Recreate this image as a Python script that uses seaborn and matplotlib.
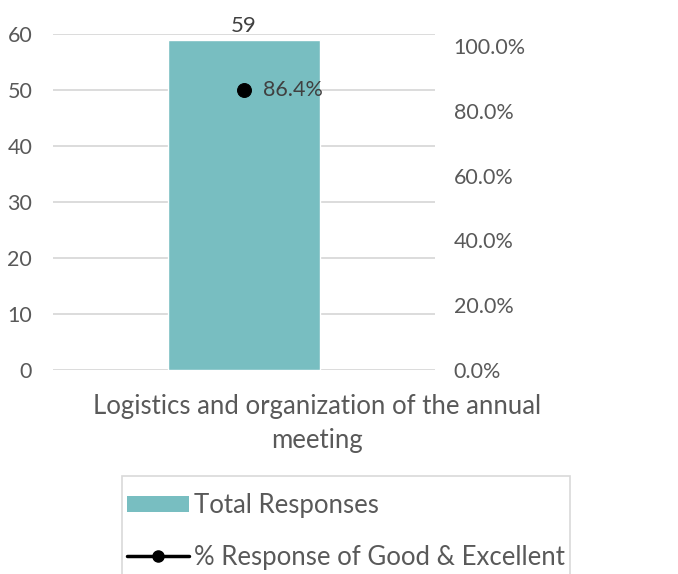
import matplotlib
matplotlib.use("Agg")
import matplotlib.pyplot as plt
import matplotlib.transforms as mtransforms
from matplotlib.ticker import FuncFormatter
from matplotlib.lines import Line2D
from matplotlib.patches import Patch, Rectangle
import seaborn as sns
import pandas as pd

categories = ["Logistics and organization of the annual\nmeeting"]
total_responses = [59]
pct_good_excellent = [0.864]
left_ticks = [0, 10, 20, 30, 40, 50, 60]
right_ticks = [0.0, 0.2, 0.4, 0.6, 0.8, 1.0]

BAR_COLOR = "#78BEC1"
TEXT_COLOR = "#595959"
GRID_COLOR = "#D9D9D9"

sns.set_theme(style="white")
plt.rcParams["font.family"] = ["Lato", "DejaVu Sans"]
plt.rcParams["text.color"] = TEXT_COLOR
FS_NUM = 15.5
FS_TXT = 18.5

df = pd.DataFrame({"category": categories, "total": total_responses, "pct": pct_good_excellent})

fig = plt.figure(figsize=(6.78, 5.74), dpi=100)
ax = fig.add_axes([53 / 678, 1 - 370 / 574, (435 - 53) / 678, (370 - 34) / 574])

sns.barplot(data=df, x="category", y="total", color=BAR_COLOR, width=0.4,
            saturation=1, ax=ax, zorder=2)
ax.set_xlim(-0.5, 0.5)
ax.set_ylim(0, 60)
ax.set_yticks(left_ticks)
ax.yaxis.grid(True, color=GRID_COLOR, linewidth=1.3, zorder=0)
ax.set_axisbelow(True)
for s in ax.spines.values():
    s.set_visible(False)
ax.tick_params(axis="y", length=0, pad=15, labelsize=FS_NUM, labelcolor=TEXT_COLOR)
ax.tick_params(axis="x", length=0, pad=17, labelsize=FS_TXT, labelcolor=TEXT_COLOR)
ax.set_xlabel("")
ax.set_ylabel("")
offset = mtransforms.ScaledTranslation(73 / 100, 0, fig.dpi_scale_trans)
for lbl in ax.get_xticklabels():
    lbl.set_transform(lbl.get_transform() + offset)
    lbl.set_linespacing(1.45)

for i, v in enumerate(total_responses):
    ax.text(i, v + 0.7, f"{v}", ha="center", va="bottom", fontsize=FS_NUM + 0.5, color="#404040")

ax2 = ax.twinx()
sns.lineplot(x=[0], y=pct_good_excellent, ax=ax2, color="black", marker="o",
             markersize=10, markeredgecolor="black", linewidth=2.5, legend=False)
ax2.set_ylim(0, 1.037)
ax2.set_yticks(right_ticks)
ax2.yaxis.set_major_formatter(FuncFormatter(lambda v, p: f"{v*100:.1f}%"))
ax2.tick_params(axis="y", length=0, pad=13.5, labelsize=FS_NUM, labelcolor=TEXT_COLOR)
ax2.set_ylabel("")
for s in ax2.spines.values():
    s.set_visible(False)
for i, v in enumerate(pct_good_excellent):
    ax2.annotate(f"{v*100:.1f}%", (i, v), xytext=(14, 0), textcoords="offset points",
                 ha="left", va="center", fontsize=FS_NUM, color="#404040")

handles = [Patch(facecolor=BAR_COLOR, edgecolor="none"),
           Line2D([0], [0], color="black", marker="o", markersize=8, linewidth=2.5)]
leg = fig.legend(handles, ["Total Responses", "% Response of Good & Excellent"],
                 loc="upper left", bbox_to_anchor=(127 / 678, 1 - 493 / 574),
                 frameon=False, fontsize=FS_TXT, labelcolor=TEXT_COLOR,
                 handlelength=2.4, handleheight=0.6, handletextpad=0.2, labelspacing=1.05,
                 borderpad=0, borderaxespad=0)
frame = Rectangle((122 / 678, -0.02), (570 - 122) / 678, (1 - 476 / 574) + 0.02,
                  transform=fig.transFigure, fill=False, edgecolor=GRID_COLOR, linewidth=1.2)
fig.patches.append(frame)

fig.savefig("out.png", dpi=100)
